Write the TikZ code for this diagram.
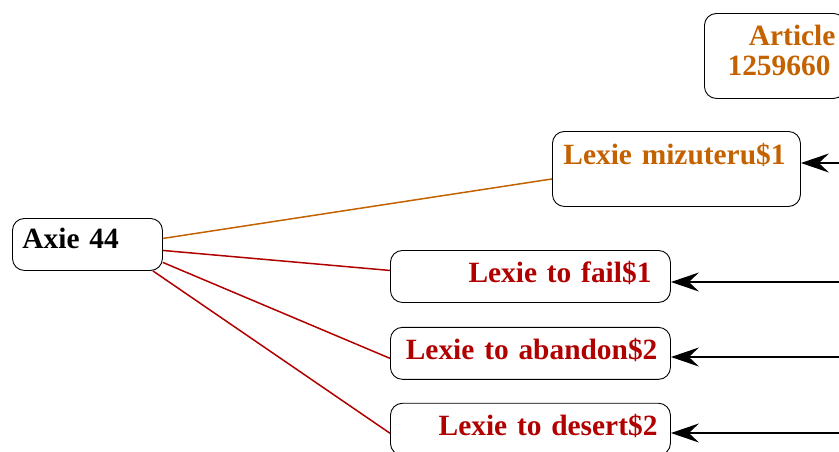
\documentclass[tikz,border=0pt]{standalone}
\usepackage{fontspec}
\setmainfont{Liberation Serif}
\usetikzlibrary{arrows.meta,positioning}
\definecolor{lexorange}{HTML}{C46200}
\definecolor{lexred}{HTML}{B00000}

\begin{document}
\begin{tikzpicture}[
  x=1pt,y=-1pt,
  font=\bfseries\fontsize{29.4}{30}\selectfont,
  box/.style={draw,rounded corners=12pt,line width=0.9pt,inner ysep=4pt,anchor=north west},
  lexbox/.style={box,text=lexred,align=right,text width=254pt,inner xsep=13pt,text height=28pt,text depth=16pt},
  edge/.style={line width=1.5pt},
  arr/.style={-{Stealth[length=28pt,width=19pt,inset=10pt]},line width=2pt}
]
\useasboundingbox (0,0) rectangle (839,451);
\node[box,text=lexorange,align=right,text width=121pt,inner xsep=10pt,text height=28pt,text depth=49pt] (article) at (704,13) {Article\\1259660\hspace*{5pt}};
\node[box,align=left,text width=130pt,inner xsep=10pt,text height=26pt,text depth=18pt] (axie) at (12,218) {\mbox{Axie 44}};
\node[box,text=lexorange,align=left,text width=226pt,inner xsep=11pt,text height=29pt,text depth=38pt] (mizuteru) at (552,131) {\mbox{Lexie mizuteru\$1}};
\node[lexbox] (fail) at (390,250) {Lexie to fail\$1\hspace*{6pt}};
\node[lexbox,below=24pt of fail] (abandon) {Lexie to abandon\$2};
\node[lexbox,below=23pt of abandon] (desert) {Lexie to desert\$2};
% incoming from the right
\coordinate (in0) at (845,163);
\coordinate (in1) at (845,282);
\coordinate (in2) at (845,357);
\coordinate (in3) at (845,433);
\foreach \src/\dst in {in0/mizuteru,in1/fail,in2/abandon,in3/desert}
  \draw[arr] (\src) -- (\src -| \dst.east);
% edges out of axie
\draw[edge,lexorange] ([yshift=6pt]axie.east) -- ([yshift=-10pt]mizuteru.west);
\draw[edge,lexred] ([yshift=-6pt]axie.east) -- ([yshift=6pt]fail.west);
\draw[edge,lexred] ([yshift=-18pt]axie.east) -- ([yshift=-5pt]abandon.west);
\draw[edge,lexred] ([xshift=-10pt]axie.south east) -- ([yshift=-4pt]desert.west);
\end{tikzpicture}
\end{document}
